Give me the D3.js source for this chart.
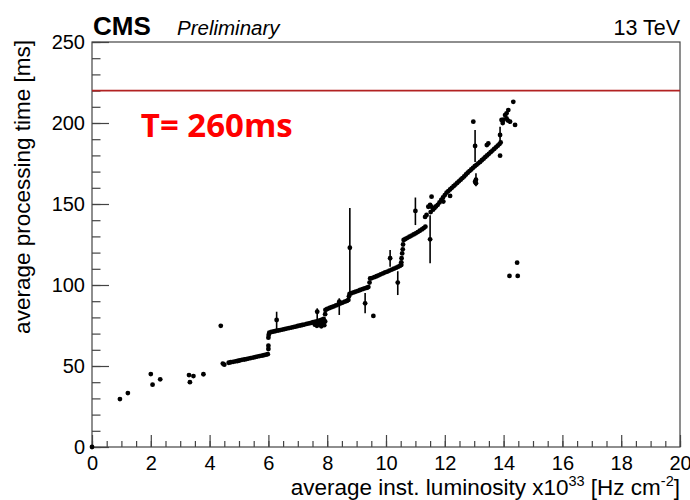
<!DOCTYPE html>
<html><head><meta charset="utf-8">
<script src="https://cdn.jsdelivr.net/npm/d3@7"></script>
<style>body{margin:0;background:#fff}svg{display:block}</style>
</head><body>
<script>
// ---- data ----
const xTicks = [0,2,4,6,8,10,12,14,16,18,20];
const yTicks = [0,50,100,150,200,250];
const limitValue = 220;
const limitLabel = "T= 260ms";

// isolated low-luminosity points
const lowPoints = [
  [0,0],[0.95,29.6],[1.22,33.3],[2.0,45],[2.06,38.5],[2.32,41.8],
  [3.3,44.4],[3.33,40],[3.45,43.8],[3.79,44.9],[4.38,74.8],[4.45,51.5],[4.5,50.8]
];
// main dense band (x, y)
const bandPoints = [
  [4.65,52.0],[4.72,52.3],[4.8,52.6],[4.88,52.9],[4.95,53.1],[5.02,53.4],[5.1,53.8],[5.18,54.0],
  [5.25,54.3],[5.32,54.6],[5.4,54.9],[5.48,55.2],[5.55,55.5],[5.62,55.8],[5.7,56.1],[5.78,56.4],
  [5.85,56.7],[5.92,57.0],[5.98,57.3],
  [6.0,60.5],[6.0,62.5],[6.0,67.5],[6.01,69.2],
  [6.03,70.6],[6.1,71.0],[6.18,71.3],[6.25,71.6],[6.33,71.9],[6.4,72.2],[6.48,72.5],[6.55,72.8],
  [6.62,73.1],[6.7,73.4],[6.78,73.7],[6.85,74.0],[6.92,74.3],[7.0,74.7],[7.08,75.0],[7.15,75.3],
  [7.22,75.6],[7.3,76.0],[7.38,76.3],[7.45,76.6],[7.52,77.0],[7.6,77.3],[7.68,77.7],[7.75,78.1],
  [7.82,78.6],[7.88,79.0],
  [7.58,75.5],[7.65,74.8],[7.72,76.0],[7.8,74.5],[7.85,76.5],[7.9,75.2],[7.93,77.5],
  [7.93,82.0],[7.94,84.6],
  [8.0,85.2],[8.08,85.8],[8.15,86.3],[8.22,86.8],[8.3,87.4],[8.38,88.0],[8.45,88.6],[8.52,89.1],
  [8.6,89.7],[8.67,90.2],[8.72,90.8],
  [8.74,93.0],[8.76,94.5],
  [8.82,94.9],[8.9,95.4],[8.97,95.9],[9.05,96.4],[9.12,96.9],[9.2,97.4],[9.27,97.9],[9.35,98.3],[9.4,98.7],
  [9.44,101.5],[9.46,104.0],[9.57,80.9],
  [9.52,104.3],[9.6,104.8],[9.68,105.4],[9.75,106.0],[9.82,106.6],[9.9,107.2],[9.97,107.8],[10.05,108.3],
  [10.12,108.9],[10.2,109.5],[10.27,110.1],[10.35,110.7],[10.42,111.3],[10.48,111.9],[10.52,112.4],
  [10.52,114.0],[10.53,116.5],[10.55,119.5],[10.57,122.0],[10.58,125.0],[10.6,127.8],
  [10.66,128.4],[10.73,129.1],[10.8,129.8],[10.87,130.5],[10.94,131.2],[11.01,131.9],[11.08,132.7],
  [11.15,133.5],[11.22,134.3],[11.28,135.1],[11.34,136.0],
  [11.33,142.0],[11.38,143.2],[11.44,148.3],[11.5,149.4],[11.55,154.5],[11.55,148.3],[11.52,145.0],
  [11.6,146.5],[11.65,147.5],[11.7,148.5],[11.76,149.5],[11.82,151.0],[11.88,152.5],[11.94,154.0],
  [12.0,155.5],[12.06,157.0],[12.12,158.0],[12.18,159.0],[12.24,160.0],[12.3,161.0],[12.36,162.0],
  [12.42,163.0],[12.48,164.0],[12.54,165.0],[12.6,166.0],[12.66,167.0],[12.72,168.2],[12.78,169.3],
  [12.84,170.3],[12.9,171.3],[12.96,172.3],[13.02,173.3],[13.08,174.2],[13.14,175.1],[13.2,176.0],
  [13.26,177.0],[13.32,178.0],[13.38,179.0],[13.44,180.0],[13.5,181.0],[13.56,182.0],[13.62,183.0],
  [13.68,184.0],[13.74,185.0],[13.8,186.0],[13.86,187.0],[13.9,188.0],
  [11.95,151.5],[12.18,155.0],[13.03,163.8],[13.06,162.8],[13.43,186.4],[13.48,187.4],[13.88,179.8],
  [12.97,200.8],
  [13.93,201.9],[13.97,200.0],[14.0,202.0],[14.05,204.9],[14.1,206.0],[14.16,208.0],[14.1,202.9],
  [14.15,201.5],[14.22,200.8],[14.39,198.8],[14.33,213.1],
  [14.2,105.6],[14.48,105.6],[14.46,113.8]
];
// error bars: [x, y, low, high]
const errPoints = [
  [6.28,78.4,71.2,83.5],[7.66,83.5,75.3,85.6],[8.41,89.7,81.5,91.8],[8.77,123,93,147.5],
  [9.29,88.7,82.6,95],[10.14,116.5,111.3,121.6],[10.4,101.5,93.8,108.5],[11.0,145.7,137,154],
  [11.5,128.2,113.4,143],[13.03,185.8,176,195.7],[13.88,192.6,187.4,197.7],[13.06,165,161,169]
];

// ---- layout ----
const W = 690, H = 500;
const m = {l:92, r:10, t:42, b:53};
const pw = W - m.l - m.r, ph = H - m.t - m.b;
const font = "'Liberation Sans', Arial, Helvetica, sans-serif";

const svg = d3.select("body").append("svg").attr("width", W).attr("height", H)
  .style("font-family", font);
const g = svg.append("g").attr("transform", `translate(${m.l},${m.t})`);

const x = d3.scaleLinear().domain([0,20]).range([0,pw]);
const y = d3.scaleLinear().domain([0,250]).range([ph,0]);

// frame
g.append("rect").attr("width", pw).attr("height", ph)
  .attr("fill","none").attr("stroke","#444").attr("stroke-width",1.2);

// axes
const yMinor = d3.range(0,251,10);
const xMinor = d3.range(0,20.01,0.5);
g.append("g").call(d3.axisLeft(y).tickValues(yMinor).tickSize(-8.5).tickFormat(""))
  .call(a=>a.select(".domain").remove());
g.append("g").call(d3.axisLeft(y).tickValues(yTicks).tickSize(-17).tickPadding(7).tickFormat(d3.format("d")))
  .call(a=>a.select(".domain").remove())
  .call(a=>a.selectAll("text").attr("font-size",20).attr("fill","#000").style("font-family",font));
g.append("g").attr("transform",`translate(0,${ph})`)
  .call(d3.axisBottom(x).tickValues(xMinor).tickSize(-6).tickFormat(""))
  .call(a=>a.select(".domain").remove());
g.append("g").attr("transform",`translate(0,${ph})`)
  .call(d3.axisBottom(x).tickValues(xTicks).tickSize(-12).tickPadding(9).tickFormat(d3.format("d")))
  .call(a=>a.select(".domain").remove())
  .call(a=>a.selectAll("text").attr("font-size",20).attr("fill","#000").style("font-family",font));
g.selectAll(".tick line").attr("stroke","#444").attr("stroke-width",1.2);

// limit line
g.append("line").attr("x1",0).attr("x2",pw).attr("y1",y(limitValue)).attr("y2",y(limitValue))
  .attr("stroke","#b22222").attr("stroke-width",1.6);
g.append("text").attr("x",x(1.66)).attr("y",y(191.2))
  .attr("fill","#ff0000").attr("font-weight","bold").attr("font-size",33)
  .style("font-family","'Open Sans', 'Liberation Sans', sans-serif").text(limitLabel);

// error bars
g.append("g").selectAll("line").data(errPoints).join("line")
  .attr("x1",d=>x(d[0])).attr("x2",d=>x(d[0])).attr("y1",d=>y(d[2])).attr("y2",d=>y(d[3]))
  .attr("stroke","#000").attr("stroke-width",1.6);

// points
const allPts = lowPoints.concat(bandPoints).concat(errPoints.map(d=>[d[0],d[1]]));
g.append("g").selectAll("circle").data(allPts).join("circle")
  .attr("cx",d=>x(d[0])).attr("cy",d=>y(d[1])).attr("r",2.4).attr("fill","#000");

// header texts
svg.append("text").attr("x",93).attr("y",35).attr("font-size",26).attr("font-weight","bold").text("CMS");
svg.append("text").attr("x",177).attr("y",35).attr("font-size",20.5).attr("font-style","italic").text("Preliminary");
svg.append("text").attr("x",680).attr("y",35).attr("font-size",21.5).attr("text-anchor","end").text("13 TeV");

// axis titles
const xt = svg.append("text").attr("x",680).attr("y",495).attr("text-anchor","end").attr("font-size",22.5);
xt.append("tspan").text("average inst. luminosity x10");
xt.append("tspan").attr("font-size",14.5).attr("dy",-9).text("33");
xt.append("tspan").attr("dy",9).text(" [Hz cm");
xt.append("tspan").attr("font-size",14.5).attr("dy",-9).text("-2");
xt.append("tspan").attr("dy",9).text("]");

svg.append("text").attr("transform","translate(30,40) rotate(-90)").attr("text-anchor","end")
  .attr("font-size",22.5).text("average processing time [ms]");
</script>
</body></html>
